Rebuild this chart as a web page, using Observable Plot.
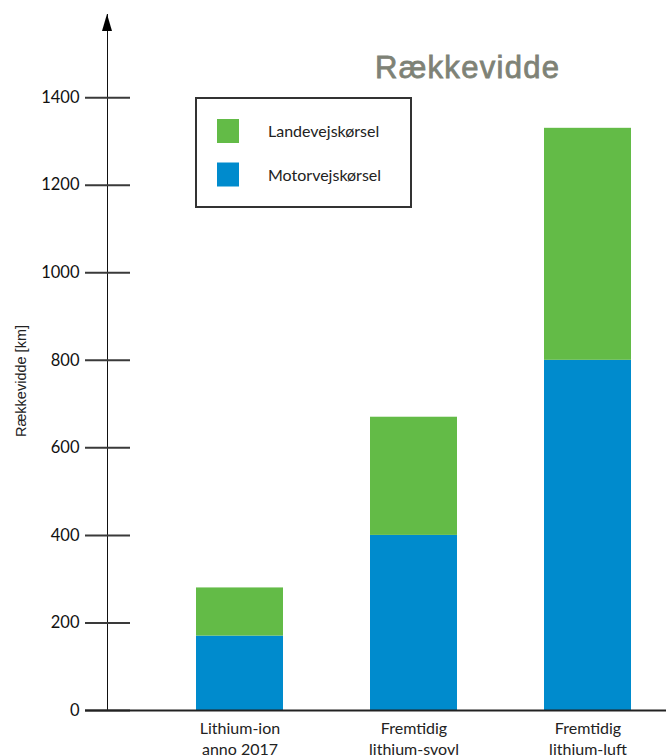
<!DOCTYPE html>
<html>
<head>
<meta charset="utf-8">
<script src="https://cdn.jsdelivr.net/npm/d3@7"></script>
<script src="https://cdn.jsdelivr.net/npm/@observablehq/plot@0.6"></script>
<style>
  html, body { margin: 0; padding: 0; background: #fff; }
  #chart { width: 666px; height: 755px; overflow: hidden; }
</style>
</head>
<body>
<div id="chart"></div>
<script>
// ---- data ----
const categories = ["Lithium-ion\nanno 2017", "Fremtidig\nlithium-svovl", "Fremtidig\nlithium-luft"];
const seriesNames = ["Landevejskørsel", "Motorvejskørsel"];
const motorvej = [170, 400, 800];   // blue (bottom)
const landevej = [110, 270, 530];   // green (top)
const yTicks = [0, 200, 400, 600, 800, 1000, 1200, 1400];
const yAxisTop = 1590;
const seriesColors = ["#63bb47", "#008bcd"];
const titleText = "Rækkevidde";
const yLabel = "Rækkevidde [km]";

const rows = categories.flatMap((c, i) => [
  {cat: c, series: "Motorvejskørsel", value: motorvej[i]},
  {cat: c, series: "Landevejskørsel", value: landevej[i]}
]);

const W = 666, H = 755, ML = 107, MR = 0, MT = 14, MB = 45;

const chart = Plot.plot({
  width: W, height: H,
  marginLeft: ML, marginRight: MR, marginTop: MT, marginBottom: MB,
  style: {fontFamily: "Lato, 'Open Sans', sans-serif", fontSize: "16.5px", color: "#111", background: "#fff"},
  x: {domain: categories, paddingInner: 0.5, paddingOuter: 0.35, align: 0.72, axis: null},
  y: {domain: [0, yAxisTop], ticks: yTicks, tickSize: 0, tickPadding: 28, line: true, label: null, tickFormat: d => String(d)},
  color: {domain: seriesNames, range: seriesColors},
  marks: [
    Plot.barY(rows, {x: "cat", y: "value", fill: "series"}),
    Plot.ruleY(yTicks, {y: d => d, insetLeft: -22, insetRight: W - MR - ML - 23, stroke: "#3a3a3a", strokeWidth: 2}),
    Plot.ruleY([0], {y: d => d, insetLeft: -22, stroke: "#222", strokeWidth: 2}),
    Plot.text(categories, {x: d => d, text: d => d, frameAnchor: "bottom", lineAnchor: "top", dy: 9, fontSize: 16, lineHeight: 1.28, fill: "#222"})
  ]
});
document.getElementById("chart").appendChild(chart);

const svg = d3.select(chart);
const ys = chart.scale("y");
const y = d3.scaleLinear(ys.domain, ys.range);
const ax = ML;

// arrow head on the y axis
svg.append("path")
  .attr("d", `M${ax},${y(yAxisTop)} L${ax - 5},${y(yAxisTop) + 17} L${ax + 5},${y(yAxisTop) + 17} Z`)
  .attr("fill", "#000");

// y label
svg.append("text")
  .attr("transform", `translate(26, 381) rotate(-90)`)
  .attr("text-anchor", "middle")
  .attr("font-family", "'Liberation Sans', Arial, sans-serif")
  .attr("font-size", 14.5)
  .attr("fill", "#222")
  .text(yLabel);

// title
svg.append("text")
  .attr("x", 375).attr("y", 78)
  .attr("text-anchor", "start")
  .attr("font-family", "'Liberation Sans', Arial, sans-serif")
  .attr("font-size", 31)
  .attr("letter-spacing", 1.3)
  .attr("fill", "#7e8276")
  .attr("stroke", "#7e8276").attr("stroke-width", 0.8)
  .text(titleText);

// legend
const color = chart.scale("color");
const cmap = new Map(color.domain.map((d, i) => [d, color.range[i]]));
const lg = svg.append("g");
lg.append("rect").attr("x", 196).attr("y", 98).attr("width", 215).attr("height", 109)
  .attr("fill", "#fff").attr("stroke", "#333").attr("stroke-width", 2);
seriesNames.forEach((s, i) => {
  lg.append("rect").attr("x", 217).attr("y", 119 + i * 43.5).attr("width", 22).attr("height", 24)
    .attr("fill", cmap.get(s));
  lg.append("text").attr("x", 268).attr("y", 137 + i * 43.5)
    .attr("text-anchor", "start")
    .attr("font-family", "Lato, 'Open Sans', sans-serif").attr("font-size", 16)
    .attr("fill", "#222").text(s);
});
</script>
</body>
</html>
